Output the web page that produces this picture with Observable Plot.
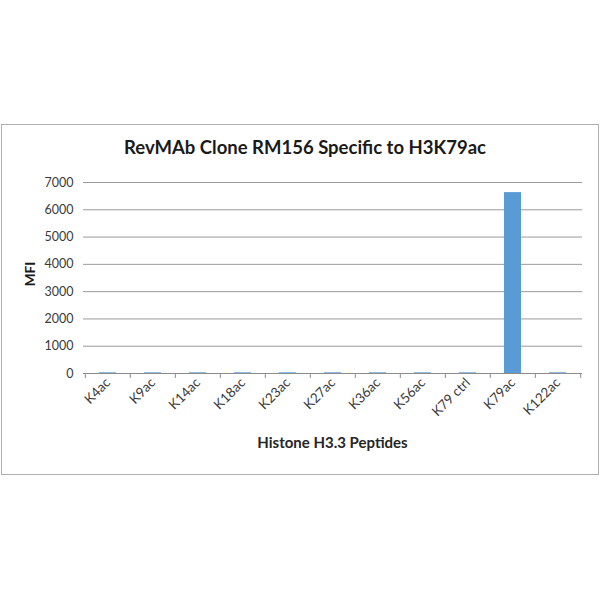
<!DOCTYPE html>
<html>
<head>
<meta charset="utf-8">
<script src="https://cdn.jsdelivr.net/npm/d3@7"></script>
<script src="https://cdn.jsdelivr.net/npm/@observablehq/plot@0.6"></script>
<style>
  html, body { margin: 0; padding: 0; background: #fff; }
  #wrap { position: relative; width: 600px; height: 600px; font-family: Lato, "Open Sans", sans-serif; }
  #frame { position: absolute; left: 1px; top: 124px; width: 596px; height: 349px; border: 1.5px solid #b0b0b0; }
  #title { position: absolute; left: 0; width: 610px; top: 136px; text-align: center; font-weight: bold; font-size: 18.5px; color: #1a1a1a; }
  #xtitle { position: absolute; left: 83px; width: 499px; top: 433px; text-align: center; font-weight: bold; font-size: 15px; color: #262626; }
  #ytitle { position: absolute; left: 30px; top: 274px; transform: translate(-50%, -50%) rotate(-90deg); font-weight: bold; font-size: 13.5px; color: #1a1a1a; white-space: nowrap; }
  #chart { position: absolute; left: 0; top: 0; }
</style>
</head>
<body>
<div id="wrap">
  <div id="frame"></div>
  <div id="chart"></div>
  <div id="title">RevMAb Clone RM156 Specific to H3K79ac</div>
  <div id="ytitle">MFI</div>
  <div id="xtitle">Histone H3.3 Peptides</div>
</div>
<script>
const peptides = ["K4ac", "K9ac", "K14ac", "K18ac", "K23ac", "K27ac", "K36ac", "K56ac", "K79 ctrl", "K79ac", "K122ac"];
const mfi = [25, 25, 25, 25, 25, 25, 25, 25, 25, 6630, 25];
const yTicks = [0, 1000, 2000, 3000, 4000, 5000, 6000, 7000];

const data = peptides.map((p, i) => ({peptide: p, value: mfi[i]}));

const W = 600, H = 600, mL = 83, mR = 18, mT = 182, mB = 227;
const step = (W - mL - mR) / peptides.length;

const chart = Plot.plot({
  width: W,
  height: H,
  marginLeft: mL,
  marginRight: mR,
  marginTop: mT,
  marginBottom: mB,
  style: {background: "transparent", fontFamily: "Lato, 'Open Sans', sans-serif"},
  x: {domain: peptides, paddingInner: 0.63, paddingOuter: 0.315, align: 0.5},
  y: {domain: [0, 7000]},
  marks: [
    Plot.gridY(yTicks.slice(1), {stroke: "#9a9a9a", strokeOpacity: 1, strokeWidth: 1}),
    Plot.axisY({ticks: yTicks, tickSize: 0, tickPadding: 10, tickFormat: d3.format("d"), fontSize: 12.5, fill: "#3a3a3a", label: null}),
    Plot.barY(data, {x: "peptide", y: "value", fill: "#5b9bd5"}),
    Plot.ruleY([0], {stroke: "#8c8c8c", strokeWidth: 1}),
    Plot.ruleX(peptides, {x: d => d, dx: -step / 2, y1: 0, y2: 0, insetBottom: -5, stroke: "#8c8c8c"}),
    Plot.ruleX(peptides.slice(-1), {x: d => d, dx: step / 2, y1: 0, y2: 0, insetBottom: -5, stroke: "#8c8c8c"}),
    Plot.axisX({tickSize: 0, tickPadding: 7, tickRotate: -45, fontSize: 13.5, fill: "#3a3a3a", label: null})
  ]
});
document.getElementById("chart").appendChild(chart);
</script>
</body>
</html>
